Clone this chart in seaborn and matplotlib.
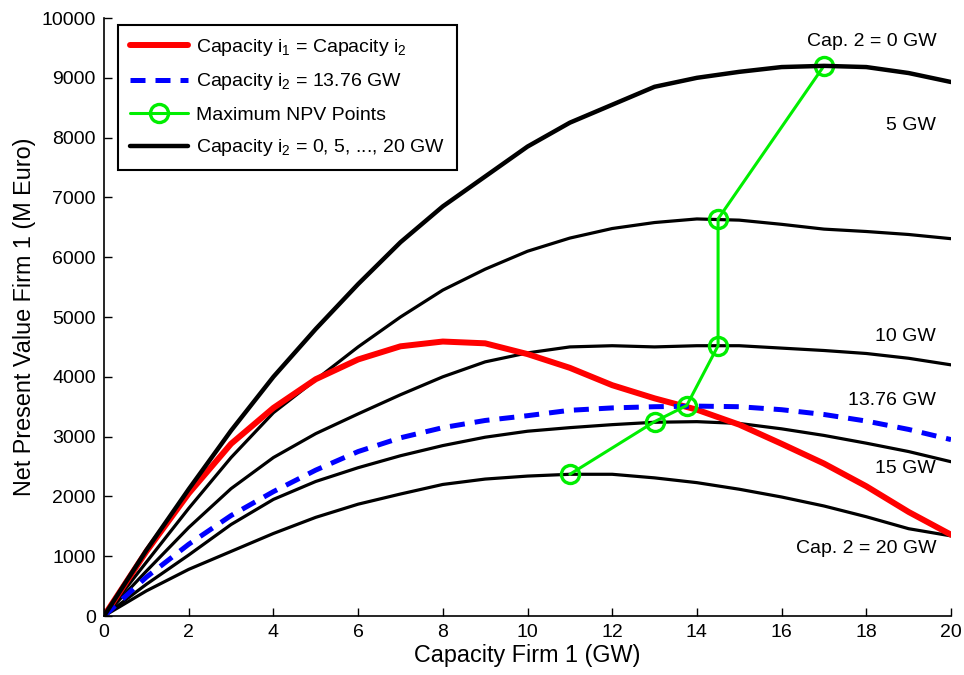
import matplotlib
matplotlib.use("Agg")
import numpy as np
import pandas as pd
import matplotlib.pyplot as plt
import seaborn as sns

# capacity of firm 1 (GW)
cap1 = [0, 1, 2, 3, 4, 5, 6, 7, 8, 9, 10, 11, 12, 13, 14, 15, 16, 17, 18, 19, 20]

# NPV of firm 1 (M Euro) for fixed capacity of firm 2
npv_c2_0 = [0, 1100, 2120, 3100, 4000, 4800, 5550, 6250, 6850, 7350, 7850, 8250, 8550,
            8850, 9000, 9100, 9180, 9200, 9180, 9080, 8930]
npv_c2_5 = [0, 900, 1800, 2650, 3400, 3950, 4500, 5000, 5450, 5800, 6100, 6320, 6480,
            6580, 6640, 6620, 6550, 6470, 6430, 6380, 6310]
npv_c2_10 = [0, 750, 1480, 2130, 2650, 3050, 3380, 3700, 4000, 4250, 4400, 4500, 4520,
             4500, 4520, 4520, 4480, 4440, 4390, 4310, 4200]
npv_c2_15 = [0, 530, 1020, 1530, 1950, 2250, 2480, 2680, 2850, 2990, 3090, 3150, 3200,
             3240, 3250, 3220, 3130, 3020, 2890, 2750, 2580]
npv_c2_20 = [0, 420, 780, 1080, 1380, 1650, 1870, 2040, 2200, 2290, 2340, 2370, 2370,
             2310, 2230, 2120, 1990, 1840, 1660, 1460, 1340]

# capacity 2 = 13.76 GW
npv_c2_1376 = [0, 650, 1200, 1680, 2080, 2440, 2750, 2980, 3150, 3270, 3350, 3440, 3480,
               3500, 3510, 3500, 3450, 3370, 3260, 3120, 2950]

# both firms same capacity
npv_equal = [0, 1080, 2050, 2880, 3480, 3960, 4290, 4510, 4590, 4560, 4380, 4150, 3860,
             3640, 3450, 3200, 2880, 2550, 2170, 1740, 1360]

# maximum NPV points
max_x = [11, 13, 13.76, 14.5, 14.5, 17]
max_y = [2370, 3250, 3520, 4520, 6640, 9200]

curve_labels = ["Cap. 2 = 0 GW", "5 GW", "10 GW", "13.76 GW", "15 GW", "Cap. 2 = 20 GW"]
label_y = [9600, 8210, 4680, 3610, 2460, 1130]

sns.set_theme(style="ticks")
plt.rcParams['font.family'] = ['Liberation Sans', 'DejaVu Sans']
plt.rcParams['mathtext.fontset'] = 'custom'
plt.rcParams['mathtext.rm'] = 'Liberation Sans'
plt.rcParams['mathtext.it'] = 'Liberation Sans'
for k in ['text.color', 'axes.labelcolor', 'xtick.color', 'ytick.color', 'axes.edgecolor']:
    plt.rcParams[k] = 'black'

fig = plt.figure(figsize=(9.64, 6.75), dpi=100)
ax = fig.add_axes([0.1079, 0.0874, 0.8786, 0.8859])

df = pd.DataFrame({"cap1": cap1, "c0": npv_c2_0, "c5": npv_c2_5, "c10": npv_c2_10,
                   "c15": npv_c2_15, "c20": npv_c2_20, "c1376": npv_c2_1376, "eq": npv_equal})

sns.lineplot(data=df, x="cap1", y="c5", color="black", lw=2.3, ax=ax, legend=False)
sns.lineplot(data=df, x="cap1", y="c10", color="black", lw=2.3, ax=ax, legend=False)
sns.lineplot(data=df, x="cap1", y="c15", color="black", lw=2.3, ax=ax, legend=False)
sns.lineplot(data=df, x="cap1", y="c20", color="black", lw=2.3, ax=ax, legend=False)
sns.lineplot(data=df, x="cap1", y="eq", color="red", lw=4.3, ax=ax,
             label="Capacity i$_1$ = Capacity i$_2$")
sns.lineplot(data=df, x="cap1", y="c1376", color="blue", lw=3.6, ax=ax,
             label="Capacity i$_2$ = 13.76 GW", dashes=False, linestyle=(0, (3, 2)))
ax.plot(max_x, max_y, color="#00ee00", lw=2.2, marker="o", ms=13, mfc="none",
        mew=2.4, label="Maximum NPV Points")
sns.lineplot(data=df, x="cap1", y="c0", color="black", lw=3.2, ax=ax,
             label="Capacity i$_2$ = 0, 5, ..., 20 GW")

for txt, yy in zip(curve_labels, label_y):
    ax.text(19.65, yy, txt, ha="right", va="center", fontsize=14)

ax.set_xlim(0, 20)
ax.set_ylim(0, 10000)
ax.set_xticks(range(0, 21, 2))
ax.set_yticks(range(0, 10001, 1000))
ax.tick_params(direction="in", length=6, width=1, labelsize=14, pad=6)
ax.set_xlabel("Capacity Firm 1 (GW)", fontsize=16.8, labelpad=2)
ax.set_ylabel("Net Present Value Firm 1 (M Euro)", fontsize=16.8, labelpad=4)
sns.despine(ax=ax)
for s in ["left", "bottom"]:
    ax.spines[s].set_linewidth(1.2)

leg = ax.legend(loc="upper left", bbox_to_anchor=(0.0165, 0.988), borderaxespad=0,
                fontsize=14, handlelength=3, handletextpad=0.4, labelspacing=0.7,
                borderpad=0.6, fancybox=False, framealpha=1, edgecolor="black")
leg.get_frame().set_linewidth(1.5)

fig.savefig("out.png", dpi=100)
